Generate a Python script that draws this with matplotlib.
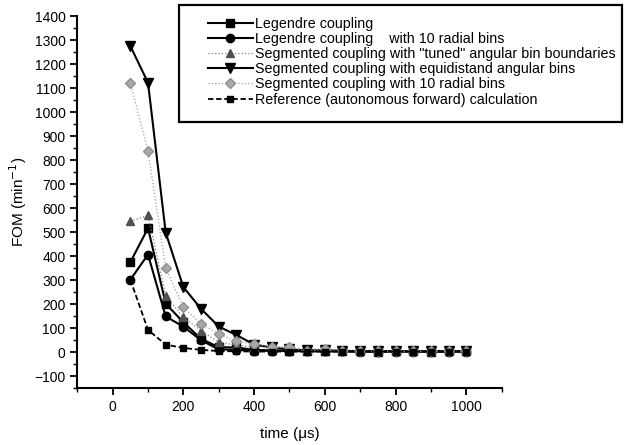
import numpy as np
import matplotlib
matplotlib.use("Agg")
import matplotlib.pyplot as plt
from matplotlib.patches import Rectangle
from matplotlib.ticker import MultipleLocator

plt.rcParams['font.family'] = ['Liberation Sans', 'DejaVu Sans']

# tiempos (microsegundos)
tiempo = [50, 100, 150, 200, 250, 300, 350, 400, 450, 500,
          550, 600, 650, 700, 750, 800, 850, 900, 950, 1000]

legendre = [375, 517, 202, 125, 56, 21, 20, 10, 8, 6,
            5, 5, 4, 4, 3, 4, 4, 3, 4, 4]
legendre_10rad = [302, 407, 149, 107, 50, 12, 10, 7, 6, 5,
                  4, 4, 4, 3, 3, 3, 3, 3, 3, 3]
seg_tuned = [545, 570, 236, 146, 90, 42, 30, 22, 25, 20,
             10, 15, 8, 6, 5, 5, 5, 4, 5, 5]
seg_equi = [1275, 1122, 498, 271, 181, 107, 72, 32, 20, 12,
            8, 8, 6, 5, 5, 5, 5, 4, 5, 5]
seg_10rad = [1122, 838, 350, 188, 118, 77, 45, 35, 20, 20,
             5, 12, 6, 5, 5, 5, 5, 4, 5, 5]
referencia = [302, 93, 32, 18, 10, 5, 4, 3, 3, 3,
              3, 3, 3, 3, 3, 3, 3, 3, 3, 3]

etiquetas = ["Legendre coupling",
             "Legendre coupling    with 10 radial bins",
             'Segmented coupling with "tuned" angular bin boundaries',
             "Segmented coupling with equidistand angular bins",
             "Segmented coupling with 10 radial bins",
             "Reference (autonomous forward) calculation"]

fig = plt.figure(figsize=(6.27, 4.45), dpi=100)
ax = fig.add_axes([0.1233, 0.1274, 0.6767, 0.8366])

ax.plot(tiempo, legendre, color='black', lw=1.5, marker='s', ms=6, label=etiquetas[0])
ax.plot(tiempo, legendre_10rad, color='black', lw=1.5, marker='o', ms=6, label=etiquetas[1])
ax.plot(tiempo, seg_tuned, color='#808080', lw=0.9, ls=':', marker='^', ms=6,
        markerfacecolor='#505050', markeredgecolor='#505050', label=etiquetas[2])
ax.plot(tiempo, seg_equi, color='black', lw=1.5, marker='v', ms=7, label=etiquetas[3])
ax.plot(tiempo, seg_10rad, color='#a0a0a0', lw=0.9, ls=':', marker='D', ms=5,
        markerfacecolor='#a8a8a8', markeredgecolor='#909090', label=etiquetas[4])
ax.plot(tiempo, referencia, color='black', lw=1.3, ls=(0, (3, 1.5)), marker='s', ms=4,
        label=etiquetas[5])

ax.set_xlim(-100, 1100)
ax.set_ylim(-150, 1400)
ax.xaxis.set_major_locator(MultipleLocator(200))
ax.xaxis.set_minor_locator(MultipleLocator(100))
ax.yaxis.set_major_locator(MultipleLocator(100))
ax.yaxis.set_minor_locator(MultipleLocator(50))

ax.spines['top'].set_visible(False)
ax.spines['right'].set_visible(False)
ax.spines['left'].set_linewidth(1.5)
ax.spines['bottom'].set_linewidth(1.5)
ax.tick_params(which='major', direction='out', length=5, width=1.3, labelsize=10)
ax.tick_params(which='minor', direction='out', length=3, width=1.0)

ax.set_xlabel('time (\u03bcs)', fontsize=11, labelpad=9)
ax.set_ylabel('FOM (min$^{-1}$)', fontsize=11)

# leyenda sin marco; el marco se dibuja aparte para dejar más margen a la izquierda
leg = fig.legend(loc='upper left', bbox_to_anchor=(0.332, 0.962), fontsize=10.3,
                 handlelength=3.1, handletextpad=0.2, frameon=False,
                 borderaxespad=0, labelspacing=0.08, borderpad=0)
marco = Rectangle((0.2855, 0.7265), 0.7065, 0.2622, transform=fig.transFigure,
                  fill=False, edgecolor='black', linewidth=1.6)
fig.patches.append(marco)

fig.savefig('out.png', dpi=100)
